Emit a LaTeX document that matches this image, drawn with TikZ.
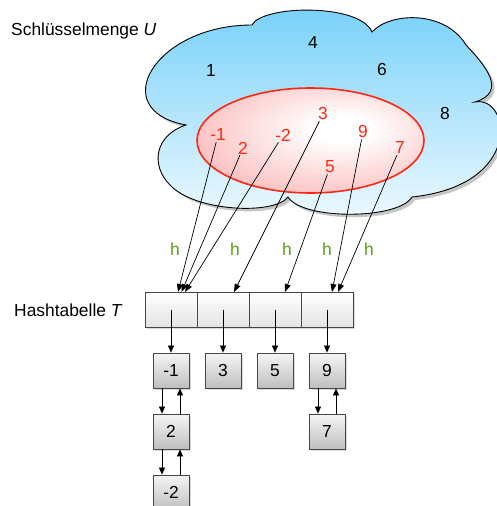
\documentclass[tikz,border=0pt]{standalone}
\usepackage{fontspec}
\setmainfont{Liberation Sans}
\usetikzlibrary{arrows.meta,shadows}
\definecolor{cloudtop}{RGB}{118,208,250}
\definecolor{cloudbot}{RGB}{238,249,255}
\definecolor{redline}{RGB}{255,38,18}
\definecolor{rednum}{RGB}{255,40,20}
\definecolor{pinkedge}{RGB}{248,145,145}
\definecolor{hgreen}{RGB}{90,160,20}
\definecolor{boxline}{RGB}{70,70,70}
\pgfdeclareradialshading{ellshade}{\pgfpoint{8bp}{6bp}}{color(0bp)=(white); color(6bp)=(white); color(50bp)=(pinkedge); color(70bp)=(pinkedge)}
\begin{document}
\begin{tikzpicture}[x=1pt,y=-1pt,
  lbl/.style={font=\fontsize{17.4}{20}\selectfont, inner sep=1pt},
  bnum/.style={lbl, text=black},
  rnum/.style={lbl, text=rednum},
  hlbl/.style={lbl, text=hgreen},
  cell/.style={draw=boxline, line width=0.8pt, minimum width=52pt, minimum height=35pt,
    top color=white, bottom color=gray!22, inner sep=0pt,
    drop shadow={shadow xshift=1.5pt, shadow yshift=-1.5pt, opacity=.3}},
  item/.style={lbl, draw=boxline, line width=0.8pt, minimum width=36pt, minimum height=35pt,
    top color=gray!8, bottom color=gray!50,
    drop shadow={shadow xshift=1.5pt, shadow yshift=-1.5pt, opacity=.3}},
  harrow/.style={-{Triangle[length=8pt,width=6pt]}, line width=0.7pt},
  larrow/.style={-{Triangle[length=7pt,width=6pt]}, line width=0.7pt}]
\clip (0,0) rectangle (497,506);
% cloud
\path[draw=black, line width=0.9pt, top color=cloudtop, bottom color=cloudbot,
  drop shadow={shadow xshift=3pt, shadow yshift=-3pt, opacity=.45}]
 (186,125) .. controls (105,110) and (155,25) .. (252,25)
 .. controls (262,5) and (360,3) .. (372,32)
 .. controls (390,12) and (445,10) .. (466,45)
 .. controls (485,65) and (508,92) .. (475,102)
 .. controls (510,95) and (525,185) .. (412,197)
 .. controls (398,220) and (302,220) .. (288,197)
 .. controls (275,215) and (195,212) .. (170,185)
 .. controls (150,165) and (155,135) .. (186,125) -- cycle;
% red set
\shade[shading=ellshade, draw=redline, line width=1.6pt] (310.5,140.5) ellipse [x radius=113.5, y radius=52.5];
% labels
\node[lbl, anchor=west] (lU) at (10,31) {Schlüsselmenge \textit{U}};
\node[lbl, anchor=west] (lT) at (13,310) {Hashtabelle \textit{T}};
% universe numbers
\node[bnum] (u4) at (313,43) {4};
\node[bnum] (u1) at (211,71) {1};
\node[bnum] (u6) at (382,70) {6};
\node[bnum] (u8) at (445,114) {8};
\node[rnum] (rm1) at (218,135) {-1};
\node[rnum] (r2) at (243,148) {2};
\node[rnum] (rm2) at (283,135) {-2};
\node[rnum] (r3) at (323,114) {3};
\node[rnum] (r9) at (363,132) {9};
\node[rnum] (r7) at (400,148) {7};
\node[rnum] (r5) at (330,167) {5};
% hash table
\node[cell] (c1) at (171,309.5) {};
\node[cell] (c2) at (223,309.5) {};
\node[cell] (c3) at (275,309.5) {};
\node[cell] (c4) at (327,309.5) {};
% h labels
\node[hlbl] (h1) at (175,249) {h};
\node[hlbl] (h2) at (235,249) {h};
\node[hlbl] (h3) at (287,249) {h};
\node[hlbl] (h4) at (327,249) {h};
\node[hlbl] (h5) at (369,249) {h};
% targets on table
\coordinate (t1a) at (178,292);
\coordinate (t1b) at (181.5,292);
\coordinate (t1c) at (185,292);
\coordinate (t2) at (234,292);
\coordinate (t3) at (285,292);
\coordinate (t4a) at (332,292);
\coordinate (t4b) at (338,292);
\draw[harrow] (rm1) -- (t1a);
\draw[harrow] (r2) -- (t1b);
\draw[harrow] (rm2) -- (t1c);
\draw[harrow] (r3) -- (t2);
\draw[harrow] (r5) -- (t3);
\draw[harrow] (r9) -- (t4a);
\draw[harrow] (r7) -- (t4b);
% lists
\node[item] (m1) at (171,370.5) {-1};
\node[item] (i3) at (223,370.5) {3};
\node[item] (i5) at (275,370.5) {5};
\node[item] (i9) at (327,370.5) {9};
\node[item] (m2) at (171,431.5) {2};
\node[item] (m3) at (171,492.5) {-2};
\node[item] (i7) at (327,431.5) {7};
\draw[larrow] (c1.center) -- (m1.north);
\draw[larrow] (c2.center) -- (i3.north);
\draw[larrow] (c3.center) -- (i5.north);
\draw[larrow] (c4.center) -- (i9.north);
\draw[larrow] ([xshift=-9pt]m1.south) -- ([xshift=-9pt]m2.north);
\draw[larrow] ([xshift=9pt]m2.north) -- ([xshift=9pt]m1.south);
\draw[larrow] ([xshift=-9pt]m2.south) -- ([xshift=-9pt]m3.north);
\draw[larrow] ([xshift=9pt]m3.north) -- ([xshift=9pt]m2.south);
\draw[larrow] ([xshift=-9pt]i9.south) -- ([xshift=-9pt]i7.north);
\draw[larrow] ([xshift=9pt]i7.north) -- ([xshift=9pt]i9.south);
\end{tikzpicture}
\end{document}
